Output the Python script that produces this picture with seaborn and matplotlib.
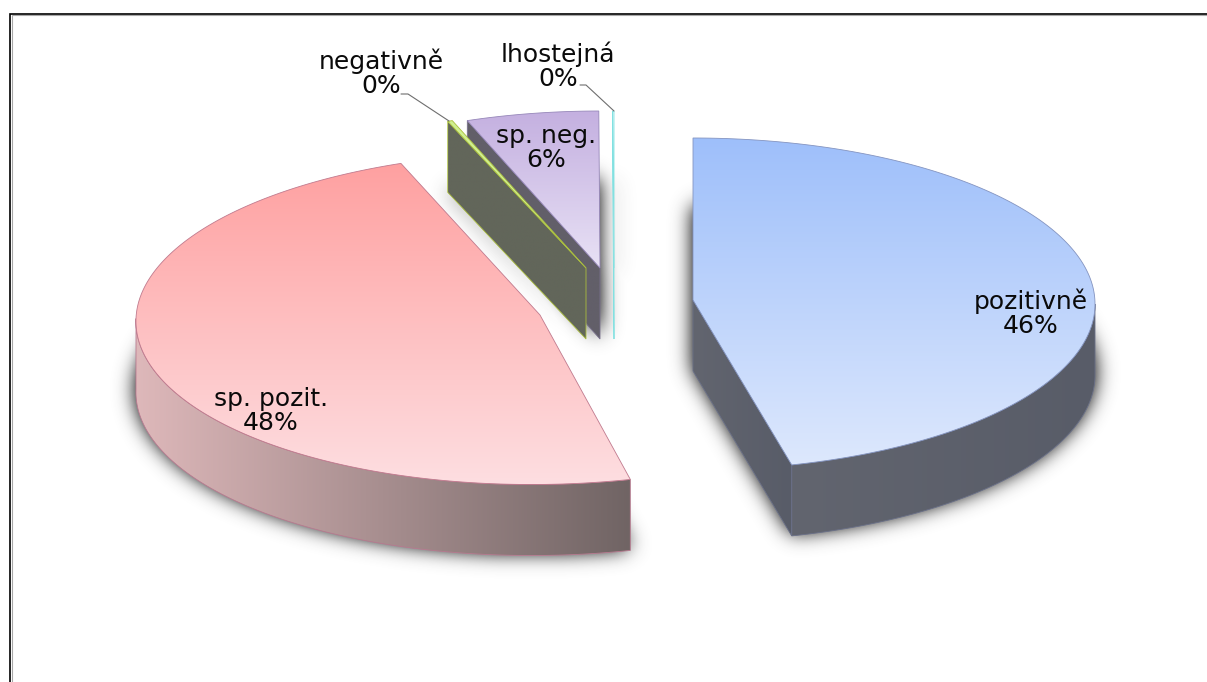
import numpy as np
import matplotlib
matplotlib.use("Agg")
import matplotlib.pyplot as plt
import seaborn as sns
from matplotlib.patches import Polygon
from matplotlib.path import Path

sns.set_theme(style="white")
plt.rcParams['font.family'] = ['DejaVu Sans']

# clockwise from 12 o'clock
categories = ['pozitivně', 'sp. pozit.', 'negativně', 'sp. neg.', 'lhostejná']
shares = [46.05, 48.15, 0.2, 5.55, 0.05]

# exploded slice geometry, in pixels
apex_x = [693, 540, 586, 600, 614]
apex_y = [300, 315, 268, 268, 268]
rim_cx = [693, 538, 586, 600, 614]
rim_cy = [304, 318.5, 268, 268, 268]
rim_rx = [402, 402, 388, 385, 402]
rim_ry = [166, 166, 157, 157, 157]
rim_skew = [0, -0.04, 0, 0, 0]
DEPTH = 71

top_colors = [('#9ebffa', '#dde8fd'), ('#ffa0a0', '#fddee1'), ('#d0f090', '#d0f090'),
              ('#c4b0e0', '#e8e1f5'), ('#ffffff', '#ffffff')]
wall_colors = [('#62656f', '#585c68'), ('#deb8ba', '#706464'), ('#62665a', '#62665a'),
               ('#625f69', '#625f69'), ('#80e0e0', '#80e0e0')]
edge_colors = ['#8494c0', '#c07a8e', '#aabe3c', '#9687b9', '#82e1e1']
wall_edges = ['#6a7088', '#b87a90', '#aabe3c', '#78708c', '#82e1e1']
label_pos = [(1031, 313), (271, 411), (381, 73), (546, 148), (558, 66)]
leaders = {2: ([401, 408, 449], [94, 94, 121]), 4: ([580, 586, 614], [85, 85, 111])}

W, H = 1207, 682
fig = plt.figure(figsize=(W / 100, H / 100), dpi=100)
ax = fig.add_axes([0, 0, 1, 1])
ax.axis('off')


def rim(i, t):
    t = np.radians(t)
    dy = -rim_ry[i] * np.sin(t)
    return np.column_stack([rim_cx[i] + rim_rx[i] * np.cos(t) + rim_skew[i] * dy, rim_cy[i] + dy])


def blurred(poly, sigma=10):
    xx, yy = np.meshgrid(np.arange(W) + 0.5, np.arange(H) + 0.5)
    mask = Path(poly).contains_points(np.column_stack([xx.ravel(), yy.ravel()])).reshape(H, W).astype(float)
    r = np.arange(-3 * sigma, 3 * sigma + 1)
    k = np.exp(-r ** 2 / (2 * sigma ** 2))
    k /= k.sum()
    mask = np.apply_along_axis(lambda c: np.convolve(c, k, 'same'), 0, mask)
    return np.apply_along_axis(lambda c: np.convolve(c, k, 'same'), 1, mask)


draw_order = [2]


def fill_gradient(poly, colors, vertical=True, edge=None):
    draw_order[0] += 1
    z = draw_order[0]
    cmap = sns.blend_palette(colors, as_cmap=True)
    x0, y0 = poly.min(axis=0)
    x1, y1 = poly.max(axis=0)
    grad = np.linspace(0, 1, 256)
    grad = grad[:, None] if vertical else grad[None, :]
    im = ax.imshow(grad, cmap=cmap, vmin=0, vmax=1, aspect='auto',
                   extent=(x0, x1, y1, y0), zorder=z, interpolation='bilinear')
    patch = Polygon(poly, closed=True, transform=ax.transData, fc='none',
                    ec=edge if edge else 'none', lw=0.6, zorder=z + 0.5)
    ax.add_patch(patch)
    im.set_clip_path(patch)


# slice angles from the values
ends = 90 - 3.6 * np.cumsum(shares)
starts = np.concatenate([[90], ends[:-1]])
tops = []
for i in range(len(shares)):
    t = np.linspace(starts[i], ends[i], 200)
    tops.append(np.vstack([[apex_x[i], apex_y[i]], rim(i, t)]))

# soft shadows behind everything
shadow = np.zeros((H, W))
for poly in tops:
    shadow = np.maximum(shadow, blurred(poly + [0, DEPTH - 3]))
rgba = np.zeros((H, W, 4))
rgba[..., :3] = 0.25
rgba[..., 3] = np.clip(shadow * 1.5, 0, 0.85)
ax.imshow(rgba, extent=(0, W, H, 0), aspect='auto', zorder=1)

for i in [3, 4, 2, 1, 0]:
    apex = np.array([apex_x[i], apex_y[i]], dtype=float)
    down = np.array([0, DEPTH])
    for t, visible in ((starts[i], np.cos(np.radians(starts[i])) < -1e-9),
                       (ends[i], np.cos(np.radians(ends[i])) > 1e-9 and np.sin(np.radians(ends[i])) < 0)):
        if visible:
            p = rim(i, np.array([t]))[0]
            fill_gradient(np.array([apex, p, p + down, apex + down]), wall_colors[i],
                          edge=wall_edges[i], vertical=False)
    lo, hi = max(ends[i], -180), min(starts[i], 0)
    if lo < hi:
        t = np.linspace(lo, hi, 200)
        r = rim(i, t)
        fill_gradient(np.vstack([r, (r + down)[::-1]]), wall_colors[i], vertical=False, edge=wall_edges[i])
    fill_gradient(tops[i], top_colors[i], edge=edge_colors[i])

for i, name in enumerate(categories):
    ax.text(label_pos[i][0], label_pos[i][1], f"{name}\n{round(shares[i])}%", ha='center', va='center',
            fontsize=18, color='#0a0a0a', linespacing=1.02, zorder=60)
for xs, ys in leaders.values():
    ax.plot(xs, ys, color='#6e6e6e', lw=0.8, zorder=50)

# chart frame, open at the bottom and right
ax.plot([11.8, 11.8, W], [H, 15.4, 15.4], color='#a8a8a8', lw=0.8, zorder=70, solid_joinstyle='miter')
ax.plot([10.2, 10.2, W], [H, 13.8, 13.8], color='black', lw=1.2, zorder=71, solid_joinstyle='miter')

ax.set_xlim(0, W)
ax.set_ylim(H, 0)
fig.savefig('out.png', dpi=100)
